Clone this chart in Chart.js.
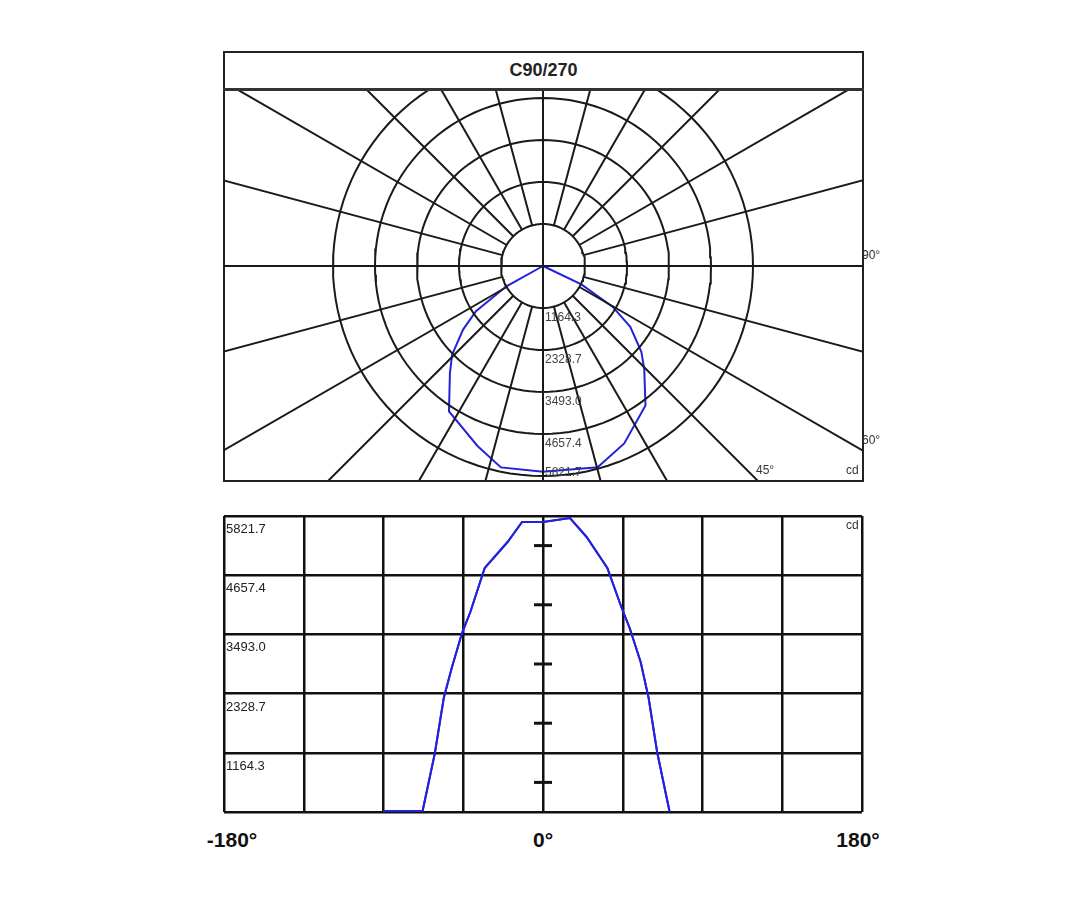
<!DOCTYPE html>
<html>
<head>
<meta charset="utf-8">
<script src="https://cdn.jsdelivr.net/npm/chart.js@4"></script>
<style>
  body { margin: 0; background: #fff; font-family: "Liberation Sans", Arial, sans-serif; }
  #wrap { position: relative; width: 1080px; height: 920px; }
  .box { position: absolute; border: 2px solid #222; box-sizing: border-box; }
  .lbl { position: absolute; color: #333; font-size: 12px; }
  .big { position: absolute; font-weight: bold; font-size: 21px; color: #111; transform: translateX(-50%); }
</style>
</head>
<body>
<div id="wrap">
  <div class="box" style="left:223px;top:51px;width:641px;height:431px;"></div>
  <div style="position:absolute;left:223px;top:88px;width:641px;height:3px;background:#333;"></div>
  <div style="position:absolute;left:223px;top:60px;width:641px;text-align:center;font-weight:bold;font-size:18px;color:#222;">C90/270</div>
  <div style="position:absolute;left:224px;top:91px;width:638px;height:389px;"><canvas id="polar"></canvas></div>
  <div class="lbl" style="left:862px;top:248px;">90°</div>
  <div class="lbl" style="left:862px;top:433px;">60°</div>
  <div class="lbl" style="left:756px;top:463px;">45°</div>
  <div class="lbl" style="left:846px;top:463px;">cd</div>

  <div style="position:absolute;left:222px;top:514px;width:642px;height:300px;"><canvas id="linear"></canvas></div>
  <div class="lbl" style="left:846px;top:518px;">cd</div>
  <div class="big" style="left:232px;top:828px;">-180°</div>
  <div class="big" style="left:543px;top:828px;">0°</div>
  <div class="big" style="left:858px;top:828px;">180°</div>
</div>
<script>
// 光强分布 C90/270 (角度, cd)
const angles = [-90, -68, -61, -56, -51.5, -45.7, -41, -32.9, -20, -11.8, 0, 15.2, 24.6, 36.3, 44.4, 48.9, 55.1, 59.6, 64.4, 71.4];
const intensity = [0, 0, 1160, 2242, 2832, 3520, 3933, 4799, 5310, 5704, 5704, 5782, 5409, 4799, 4012, 3619, 2950, 2242, 1180, 0];
const ringValues = [1164.3, 2328.7, 3493.0, 4657.4, 5821.7];
const ringLabels = ['1164.3', '2328.7', '3493.0', '4657.4', '5821.7'];
const xTicks = [-180, -135, -90, -45, 0, 45, 90, 135, 180];

const cdPerPx = 5821.7 / 210;
const polarX = 319 * cdPerPx;
const polarTop = 175 * cdPerPx;
const polarBottom = -214 * cdPerPx;

function toXY(deg, v) {
    const r = deg * Math.PI / 180;
    return { x: v * Math.sin(r), y: -v * Math.cos(r) };
}

// 网格：同心圆与放射线
const gridSets = [];
ringValues.forEach(v => {
    const pts = [];
    for (let a = 0; a <= 360; a += 3) pts.push(toXY(a, v));
    gridSets.push({ data: pts, borderColor: '#1a1a1a', borderWidth: 2, pointRadius: 0, showLine: true, tension: 0 });
});
for (let a = 0; a < 360; a += 15) {
    const start = (a % 90 === 0) ? 0 : ringValues[0];
    gridSets.push({ data: [toXY(a, start), toXY(a, 20000)], borderColor: '#1a1a1a', borderWidth: 2, pointRadius: 0, showLine: true });
}

const curve = angles.map((a, i) => toXY(a, intensity[i]));

const polarLabels = {
    id: 'polarLabels',
    afterDatasetsDraw(chart) {
        const { ctx, scales } = chart;
        ctx.save();
        ctx.font = '12px "Liberation Sans", Arial';
        ctx.fillStyle = '#444';
        ctx.textBaseline = 'top';
        ringValues.forEach((v, i) => {
            const y = Math.min(scales.y.getPixelForValue(-v) + 4, chart.height - 13);
            ctx.fillText(ringLabels[i], scales.x.getPixelForValue(0) + 2, y);
        });
        ctx.restore();
    }
};

new Chart(document.getElementById('polar'), {
    type: 'scatter',
    data: {
        datasets: [...gridSets, { data: curve, borderColor: '#2222dd', borderWidth: 2, pointRadius: 0, showLine: true }]
    },
    options: {
        responsive: true,
        maintainAspectRatio: false,
        animation: false,
        layout: { padding: 0 },
        plugins: { legend: { display: false }, tooltip: { enabled: false } },
        scales: {
            x: { display: false, min: -polarX, max: polarX },
            y: { display: false, min: polarBottom, max: polarTop }
        }
    },
    plugins: [polarLabels]
});

const linearMarks = {
    id: 'linearMarks',
    afterDraw(chart) {
        const { ctx, scales } = chart;
        const x0 = scales.x.getPixelForValue(0);
        ctx.save();
        ctx.strokeStyle = '#111';
        ctx.lineWidth = 3;
        for (let i = 0; i < ringValues.length; i++) {
            const prev = i === 0 ? 0 : ringValues[i - 1];
            const y = scales.y.getPixelForValue((prev + ringValues[i]) / 2);
            ctx.beginPath(); ctx.moveTo(x0 - 9, y); ctx.lineTo(x0 + 9, y); ctx.stroke();
        }
        ctx.font = '13px "Liberation Sans", Arial';
        ctx.fillStyle = '#222';
        ctx.textBaseline = 'top';
        ringValues.forEach((v, i) => {
            ctx.fillText(ringLabels[i], scales.x.left + 2, scales.y.getPixelForValue(v) + 7);
        });
        // 曲线重绘在网格之上
        const meta = chart.getDatasetMeta(0);
        ctx.strokeStyle = '#2222dd';
        ctx.lineWidth = 2;
        ctx.beginPath();
        meta.data.forEach((p, i) => { if (i === 0) ctx.moveTo(p.x, p.y - 1); else ctx.lineTo(p.x, p.y - (intensity[i] === 0 ? 1 : 0)); });
        ctx.stroke();
        ctx.restore();
    }
};

new Chart(document.getElementById('linear'), {
    type: 'line',
    data: {
        datasets: [{ data: angles.map((a, i) => ({ x: a, y: intensity[i] })), borderColor: '#2222dd', borderWidth: 2, pointRadius: 0, tension: 0 }]
    },
    options: {
        responsive: true,
        maintainAspectRatio: false,
        animation: false,
        layout: { padding: 2 },
        plugins: { legend: { display: false }, tooltip: { enabled: false } },
        scales: {
            x: {
                type: 'linear', min: -180, max: 180,
                afterBuildTicks: s => { s.ticks = xTicks.map(v => ({ value: v })); },
                grid: { color: '#111', lineWidth: 2.5, drawTicks: false },
                border: { display: false },
                ticks: { display: false }
            },
            y: {
                min: 0, max: 5821.7,
                afterBuildTicks: s => { s.ticks = [0, ...ringValues].map(v => ({ value: v })); },
                grid: { color: '#111', lineWidth: 2.5, drawTicks: false },
                border: { display: false },
                ticks: { display: false }
            }
        }
    },
    plugins: [linearMarks]
});
</script>
</body>
</html>
